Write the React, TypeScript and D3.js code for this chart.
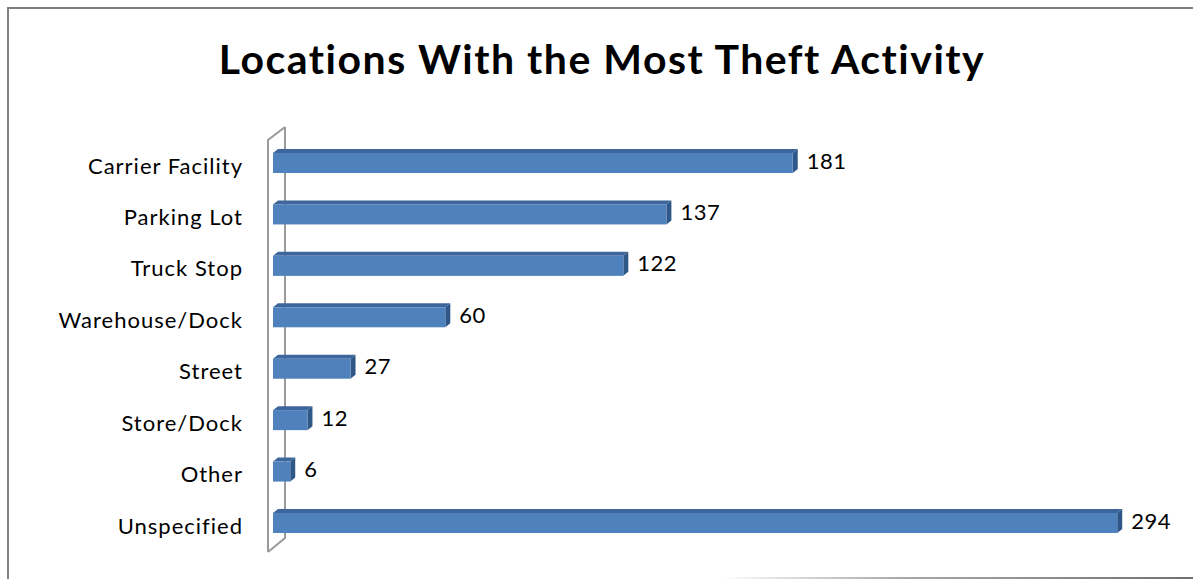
import React, { useEffect } from "react";
import * as d3 from "d3";

const categories = [
  "Carrier Facility",
  "Parking Lot",
  "Truck Stop",
  "Warehouse/Dock",
  "Street",
  "Store/Dock",
  "Other",
  "Unspecified",
];
const values = [181, 137, 122, 60, 27, 12, 6, 294];
const title = "Locations With the Most Theft Activity";

const W = 1193;
const H = 579;
const FONT = "Lato, 'Open Sans', sans-serif";

export default function App() {
  useEffect(() => {
    document.body.style.margin = "0";
  }, []);

  const x = d3.scaleLinear().domain([0, 300]).range([273, 273 + 300 * 2.8715]);
  const y = d3.scalePoint<string>().domain(categories).range([163, 523]);
  const barH = 20;
  const dx = 5;
  const dy = -4;

  const wallFrontX = 268;
  const wallBackX = 285;
  const wallTop = 140;
  const wallBottom = 552;
  const wallDy = -13;

  return (
    <svg width={W} height={H} style={{ display: "block" }}>
      <defs>
        <linearGradient id="btm" x1="0" x2="1" y1="0" y2="0">
          <stop offset="0" stopColor="#808080" stopOpacity="0" />
          <stop offset="0.4" stopColor="#909090" stopOpacity="0.8" />
          <stop offset="1" stopColor="#707070" stopOpacity="1" />
        </linearGradient>
      </defs>
      <rect width={W} height={H} fill="#fff" />
      {/* frame */}
      <line x1={7} y1={8} x2={W} y2={8} stroke="#808080" strokeWidth={2} />
      <line x1={8} y1={7} x2={8} y2={H} stroke="#808080" strokeWidth={2} />
      <rect x={720} y={577} width={W - 720} height={2} fill="url(#btm)" />

      <text
        x={602}
        y={74}
        textAnchor="middle"
        fontFamily={FONT}
        fontWeight="bold"
        fontSize={41}
        letterSpacing={1.5}
        fill="#000"
      >
        {title}
      </text>

      {/* wall */}
      <path
        d={`M${wallFrontX},${wallBottom} L${wallFrontX},${wallTop} L${wallBackX},${wallTop + wallDy} M${wallBackX},${wallTop + wallDy} L${wallBackX},${wallBottom + wallDy - 1} L${wallFrontX},${wallBottom}`}
        fill="none"
        stroke="#9a9a9a"
        strokeWidth={2}
      />

      {categories.map((c, i) => {
        const cy = y(c)!;
        const top = cy - barH / 2;
        const bot = cy + barH / 2;
        const x0 = x(0);
        const x1 = x(values[i]);
        return (
          <g key={c}>
            <polygon
              points={`${x0},${top} ${x0 + dx},${top + dy} ${x1 + dx},${top + dy} ${x1},${top}`}
              fill="#3d679c"
            />
            <polygon
              points={`${x1},${top} ${x1 + dx},${top + dy} ${x1 + dx},${bot + dy} ${x1},${bot}`}
              fill="#2f5787"
            />
            <rect x={x0} y={top} width={x1 - x0} height={barH} fill="#4f81bd" />
            <text
              x={243}
              y={cy + 5}
              textAnchor="end"
              dominantBaseline="middle"
              fontFamily={FONT}
              fontSize={22}
              letterSpacing={1}
              fill="#000"
            >
              {c}
            </text>
            <text
              x={x1 + dx + 9}
              y={cy}
              textAnchor="start"
              dominantBaseline="middle"
              fontFamily={FONT}
              fontSize={22}
              letterSpacing={0.5}
              fill="#000"
            >
              {values[i]}
            </text>
          </g>
        );
      })}
    </svg>
  );
}
